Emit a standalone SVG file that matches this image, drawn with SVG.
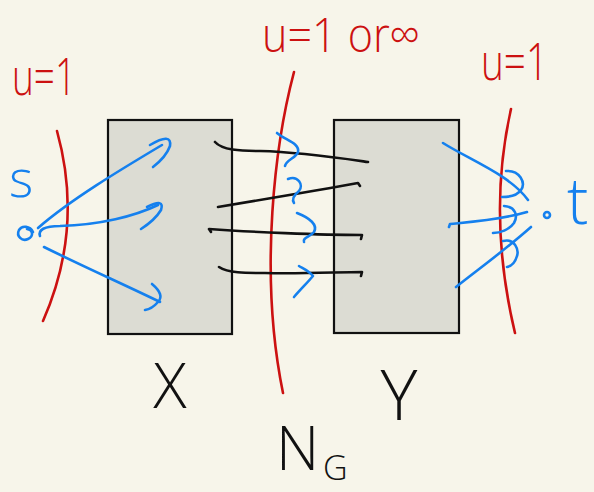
<svg xmlns="http://www.w3.org/2000/svg" width="594" height="492" viewBox="0 0 594 492">
<style>
.bg{fill:#f7f5ea}
.box{fill:#dcdcd3;stroke:#111;stroke-width:2.2}
.red{fill:none;stroke:#cc1111;stroke-width:2.6;stroke-linecap:round;stroke-linejoin:round}
.blue{fill:none;stroke:#1580ee;stroke-width:2.6;stroke-linecap:round;stroke-linejoin:round}
.blk{fill:none;stroke:#111;stroke-width:2.6;stroke-linecap:round;stroke-linejoin:round}
.lbl{font-family:"Open Sans","Liberation Sans",sans-serif;font-weight:300}
.rt{fill:#cc1111}
.bt{fill:#1580ee}
.kt{fill:#111}
</style>
<rect class="bg" x="0" y="0" width="594" height="492"/>

<g id="node-X">
<rect class="box" x="108" y="120" width="124" height="214"/>
<text class="lbl kt" x="170" y="408" font-size="62" text-anchor="middle">X</text>
</g>
<g id="node-Y">
<rect class="box" x="334" y="120" width="125" height="213"/>
<text class="lbl kt" x="399" y="420" font-size="70" text-anchor="middle">Y</text>
</g>
<g id="node-s">
<path class="blue" d="M33,232 C30,226 22,225 19,230 C16,236 22,242 28,239 C34,236 33,230 27,229"/>
<text class="lbl bt" x="9" y="197" font-size="52">s</text>
</g>
<g id="node-t">
<circle cx="547" cy="215" r="3" fill="none" stroke="#1580ee" stroke-width="2.6"/>
<text class="lbl bt" x="567" y="224" font-size="64">t</text>
</g>

<g id="cut-left">
<path class="red" d="M57,131 Q84,228 43,321"/>
<text class="lbl rt" x="12" y="95" font-size="52" textLength="64" lengthAdjust="spacingAndGlyphs">u=1</text>
</g>
<g id="cut-middle">
<path class="red" d="M294,72 C276,140 258,270 283,393"/>
<text class="lbl rt" x="262" y="52" font-size="48" textLength="158" lengthAdjust="spacingAndGlyphs">u=1 or∞</text>
</g>
<g id="cut-right">
<path class="red" d="M511,109 Q487,215 515,333"/>
<text class="lbl rt" x="481" y="80" font-size="52" textLength="67" lengthAdjust="spacingAndGlyphs">u=1</text>
</g>

<g id="connectors">
<!-- s to X -->
<path class="blue" d="M38,228 C70,200 120,170 162,145"/>
<path class="blue" d="M150,145 Q172,132 170,146 Q166,157 153,167"/>
<path class="blue" d="M40,236 C38,230 44,226 60,226 C100,225 135,216 158,205"/>
<path class="blue" d="M147,207 Q165,198 161,210 Q155,220 141,229"/>
<path class="blue" d="M44,247 C80,265 125,285 160,302"/>
<path class="blue" d="M152,284 Q165,295 158,302 Q152,309 145,310"/>
<!-- X to Y -->
<path class="blk" d="M215,142 C222,150 240,151 260,151 C300,152 340,158 368,162"/>
<path class="blk" d="M218,207 C260,200 320,190 358,183 L360,186"/>
<path class="blk" d="M211,232 L209,229 C250,232 320,235 362,235 L361,239"/>
<path class="blk" d="M219,267 C228,273 245,273 265,273 C300,274 340,272 362,272 L361,276"/>
<!-- squiggles -->
<path class="blue" d="M277,133 C285,140 300,143 298,152 C296,158 286,160 285,166"/>
<path class="blue" d="M288,179 C298,175 304,185 299,191 C293,196 292,200 294,203"/>
<path class="blue" d="M297,213 C310,218 318,225 314,232 C310,237 302,238 304,242"/>
<path class="blue" d="M294,297 C300,290 308,282 313,276 C308,270 302,268 299,266"/>
<!-- Y to t -->
<path class="blue" d="M443,143 C470,160 510,175 528,200"/>
<path class="blue" d="M449,227 L450,224 C470,222 500,220 527,212"/>
<path class="blue" d="M456,287 C480,268 505,250 531,227"/>
<path class="blue" d="M506,171 C520,170 526,183 521,190 C517,196 508,197 502,197"/>
<path class="blue" d="M504,206 C516,207 518,216 514,223 C509,230 500,233 493,233"/>
<path class="blue" d="M503,241 C515,238 519,250 517,256 C515,263 512,266 507,267"/>
</g>

<g id="label-NG">
<text class="lbl kt" x="276" y="470" font-size="60">N</text>
<text class="lbl kt" x="323" y="480" font-size="34">G</text>
</g>
</svg>
